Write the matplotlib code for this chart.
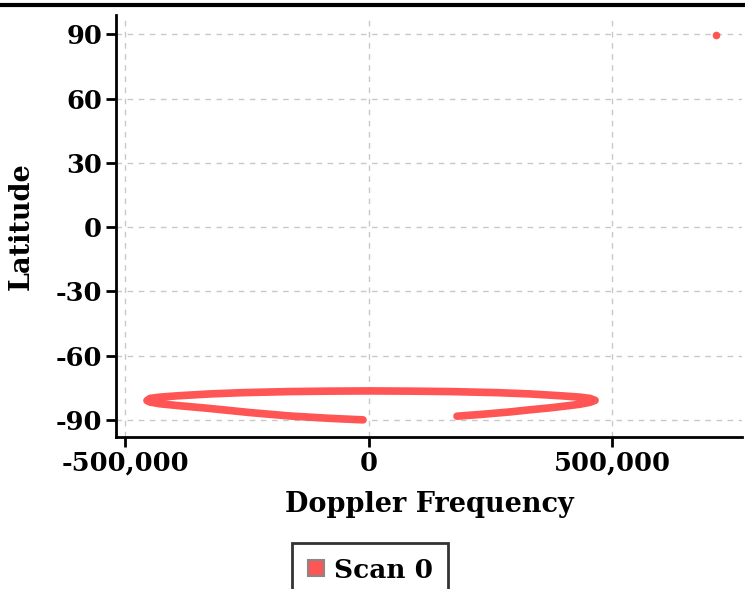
import matplotlib
matplotlib.use("Agg")
import matplotlib.pyplot as plt
from matplotlib.lines import Line2D
from matplotlib.ticker import FuncFormatter

# Scan 0 track (Doppler in Hz, latitude in degrees)
track_doppler = [
    -11500, -79300, -161400, -243500, -325600, -393400, -428300, -448900, -455000,
    -448900, -428300, -393400, -325600, -257900, -161400, -79300, 0, 85000,
    167100, 263600, 331400, 397000, 434000, 454600, 465000,
    454600, 434000, 413500, 372400, 331400, 290300, 228700, 181500,
]
track_lat = [
    -89.9, -89.2, -88.1, -86.5, -84.6, -83.2, -82.4, -81.6, -80.9,
    -79.9, -79.3, -78.7, -77.8, -77.2, -76.7, -76.5, -76.4, -76.5,
    -76.7, -77.2, -77.8, -78.7, -79.3, -79.9, -80.8,
    -81.7, -82.6, -83.2, -84.3, -85.2, -86.2, -87.4, -88.2,
]
# lone point near the pole
pole_doppler = [714000]
pole_lat = [89.6]

x_ticks = [-500000, 0, 500000]
y_ticks = [-90, -60, -30, 0, 30, 60, 90]

RED = "#ff5555"

plt.rcParams["font.family"] = "DejaVu Serif"
plt.rcParams["font.weight"] = "bold"
plt.rcParams["axes.unicode_minus"] = False

fig = plt.figure(figsize=(7.45, 5.89), dpi=100)
ax = fig.add_axes([116 / 745, 1 - 437 / 589, (742 - 116) / 745, (437 - 15) / 589])

ax.plot(track_doppler, track_lat, color=RED, lw=5.5, solid_capstyle="round",
        solid_joinstyle="round", zorder=3)
ax.plot(pole_doppler, pole_lat, "o", color=RED, ms=5.5, mec="none", zorder=3)

ax.set_xlim(-518600, 766600)
ax.set_ylim(-97.9, 99.0)
ax.set_xticks(x_ticks)
ax.set_yticks(y_ticks)
ax.xaxis.set_major_formatter(FuncFormatter(lambda v, p: f"{v:,.0f}"))
ax.yaxis.set_major_formatter(FuncFormatter(lambda v, p: f"{v:.0f}"))

ax.grid(True, color="#c8c8c8", lw=1, linestyle=(0, (4, 4)))
ax.set_axisbelow(True)

for side in ["top", "right"]:
    ax.spines[side].set_visible(False)
for side in ["left", "bottom"]:
    ax.spines[side].set_linewidth(2)
ax.tick_params(length=7, width=2, labelsize=18.5, pad=3)

ax.set_xlabel("Doppler Frequency", fontsize=19.5, fontweight="bold", labelpad=11)
ax.set_ylabel("Latitude", fontsize=19.5, fontweight="bold", labelpad=15)

handle = Line2D([], [], marker="s", ls="none", color=RED, mec="#888888",
                mew=1.5, ms=11)
leg = fig.legend([handle], ["Scan 0"], loc="upper center",
                 bbox_to_anchor=(370 / 745, 1 - 543 / 589), fontsize=19,
                 frameon=True, fancybox=False, handlelength=0.7,
                 handletextpad=0.35, borderpad=0.55, borderaxespad=0)
leg.get_frame().set_edgecolor("black")
leg.get_frame().set_linewidth(2)

# border line along the top of the figure
fig.add_artist(Line2D([0, 1], [1 - 5 / 589, 1 - 5 / 589], color="black", lw=3,
                      transform=fig.transFigure))

plt.savefig("out.png", dpi=100)
